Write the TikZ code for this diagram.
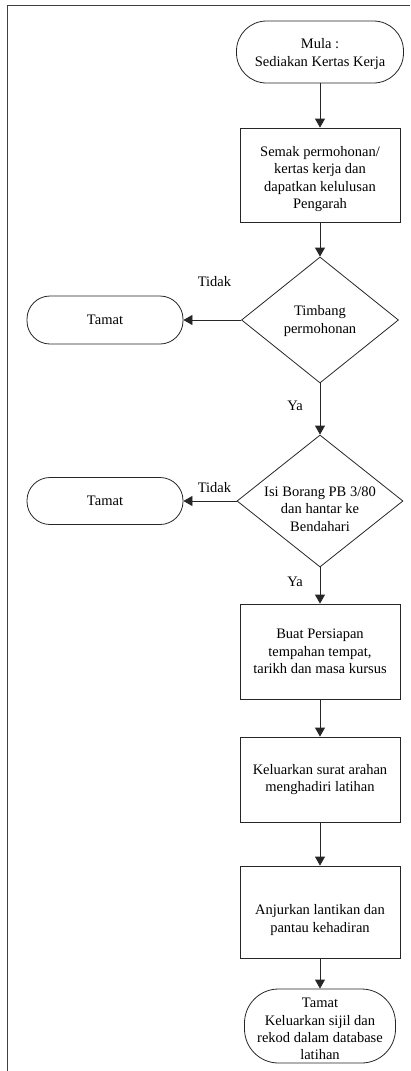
\documentclass[tikz,border=0pt]{standalone}
\usepackage{fontspec}
\setmainfont{Liberation Serif}
\usetikzlibrary{shapes.geometric,arrows.meta}
\begin{document}
\begin{tikzpicture}[x=1pt,y=-1pt,
  fnt/.style={font=\fontsize{14.5}{17.3}\selectfont},
  base/.style={draw=black!85, line width=0.8pt, align=center, inner sep=2pt, fnt},
  procbox/.style={base, rectangle, minimum width=160pt},
  term/.style={base, rectangle},
  dec/.style={draw=black!85, line width=0.8pt, diamond, inner sep=0pt},
  txt/.style={align=center, fnt, inner sep=0pt},
  lbl/.style={fnt, inner sep=0pt},
  arr/.style={draw=black!85, line width=0.8pt, -{Triangle[width=10pt,length=9pt]}},
  frame/.style={line width=1.4pt, draw=black!75}
]
\useasboundingbox (0,0) rectangle (410,1071);
\draw[frame] (410,5.5) -- (7.5,5.5) -- (7.5,1071);

\node[term, minimum width=167pt, minimum height=62pt, rounded corners=30pt] (start) at (320,52) {};
\node[txt] (startt) at (320,54) {Mula :\\Sediakan Kertas Kerja};

\node[procbox, minimum height=94pt] (b1) at (320,175) {};
\node[txt] (b1t) at (320,179) {Semak permohonan/\\kertas kerja dan\\dapatkan kelulusan\\Pengarah};

\node[dec, minimum width=157pt, minimum height=126pt] (d1) at (320,320) {};
\node[txt] (d1t) at (320,321) {Timbang\\permohonan};
\node[term, minimum width=156pt, minimum height=48pt, rounded corners=23pt] (t1) at (105,320) {Tamat};

\node[dec, minimum width=166pt, minimum height=132pt] (d2) at (320,501) {};
\node[txt] (d2t) at (320,509) {Isi Borang PB 3/80\\dan hantar ke\\Bendahari};
\node[term, minimum width=156pt, minimum height=47pt, rounded corners=23pt] (t2) at (105,501) {Tamat};

\node[procbox, minimum height=95pt] (b2) at (320,651.5) {Buat Persiapan\\tempahan tempat,\\tarikh dan masa kursus};
\node[procbox, minimum height=85pt] (b3) at (320,779.5) {Keluarkan surat arahan\\menghadiri latihan};
\node[procbox, minimum height=92pt] (b4) at (320,912) {};
\node[txt] (b4t) at (320,920) {Anjurkan lantikan dan\\pantau kehadiran};
\node[term, minimum width=151pt, minimum height=74pt, rounded corners=34pt] (end) at (320,1026) {};
\node[txt] (endt) at (320,1029) {Tamat\\Keluarkan sijil dan\\rekod dalam database\\latihan};

\node[lbl] (no1) at (214.5,282) {Tidak};
\node[lbl] (yes1) at (295,406) {Ya};
\node[lbl] (no2) at (214.5,488) {Tidak};
\node[lbl] (yes2) at (295,582) {Ya};

\draw[arr] (start) -- (b1);
\draw[arr] (b1) -- (d1);
\draw[arr] (d1.west) -- (t1.east);
\draw[arr] (d1.south) -- (d2.north);
\draw[arr] (d2.west) -- (t2.east);
\draw[arr] (d2.south) -- (b2.north);
\draw[arr] (b2) -- (b3);
\draw[arr] (b3) -- (b4);
\draw[arr] (b4) -- (end);
\end{tikzpicture}
\end{document}
